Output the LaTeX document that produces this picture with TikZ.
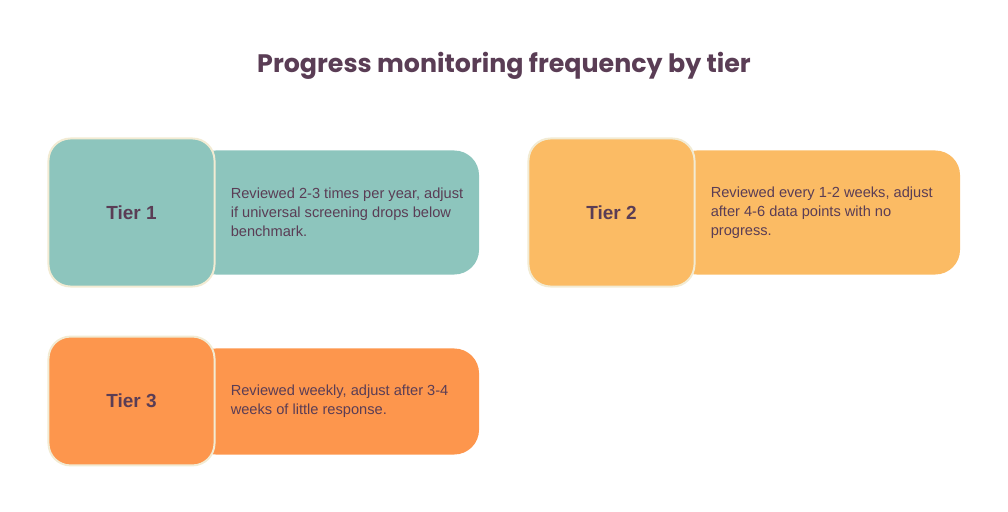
\documentclass[tikz,border=0pt]{standalone}
\usepackage{fontspec}
\setmainfont{Liberation Sans}
\newfontfamily\titlefont{Poppins}
\usetikzlibrary{positioning}
\definecolor{ink}{HTML}{5A3D55}
\definecolor{tealc}{HTML}{8DC5BD}
\definecolor{goldc}{HTML}{FBBB64}
\definecolor{orangec}{HTML}{FD964D}
\definecolor{creamc}{HTML}{F2EBD3}

\begin{document}
\begin{tikzpicture}[
            x=0.025cm,y=-0.025cm,
            tierbox/.style={draw=creamc,line width=1.4pt,rounded corners=0.55cm,minimum width=4.15cm,
            text=ink,font=\fontsize{13.5}{15}\selectfont\bfseries,inner sep=0},
            backbox/.style={rounded corners=0.62cm,minimum width=7.2cm,inner sep=0},
            notetext/.style={text=ink,font=\fontsize{10.4}{13.5}\selectfont,align=left,inner sep=0}
            ]
            \useasboundingbox (0,0) rectangle (1008,512);
            \node[text=ink,font=\titlefont\fontsize{18}{22}\selectfont\bfseries] (title) at (504,66)
                {Progress monitoring frequency by tier};

            % tier / square centre x,y / back centre x,y / square height / back height / colour / note
            \foreach \n/\sx/\sy/\bx/\by/\sh/\bh/\col/\txt in {
                1/131.5/212.5/335/212.5/3.7/3.1/tealc/{Reviewed 2-3 times per year, adjust\\if universal screening drops below\\benchmark.},
                2/611.5/212.5/816/212.5/3.7/3.1/goldc/{Reviewed every 1-2 weeks, adjust\\after 4-6 data points with no\\progress.},
                3/131.5/401/335/401.5/3.22/2.65/orangec/{Reviewed weekly, adjust after 3-4\\weeks of little response.}} {
                \node[backbox,fill=\col,minimum height=\bh cm] (back\n) at (\bx,\by) {};
                \node[tierbox,fill=\col,minimum height=\sh cm] (tier\n) at (\sx,\sy) {Tier \n};
                \node[notetext,right=0.375cm of tier\n] (note\n) {\txt};
            }
        \end{tikzpicture}
\end{document}
